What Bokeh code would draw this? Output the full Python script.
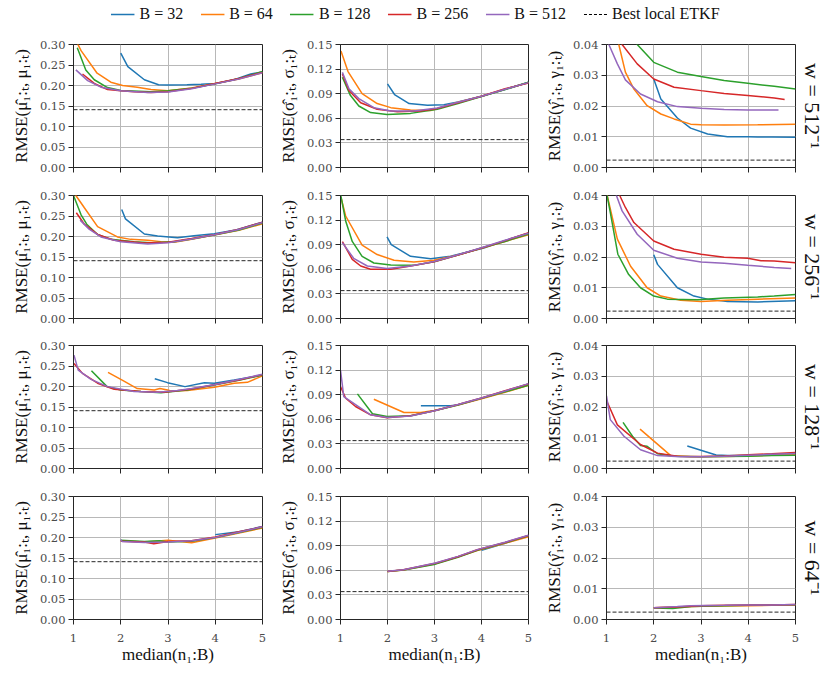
from bokeh.plotting import figure
from bokeh.layouts import column, row
from bokeh.models import (FixedTicker, PrintfTickFormatter, Span, LinearAxis,
                          Range1d, Legend, LegendItem)
from bokeh.embed import file_html
from bokeh.resources import INLINE

# ---------------- data ----------------
B_VALUES = [32, 64, 128, 256, 512]
B_LABELS = ["B = 32", "B = 64", "B = 128", "B = 256", "B = 512"]
COLORS = ["#1f77b4", "#ff7f0e", "#2ca02c", "#d62728", "#9467bd"]
X_TICKS = [1, 2, 3, 4, 5]
Y_TICKS_MU = [0.0, 0.05, 0.10, 0.15, 0.20, 0.25, 0.30]
Y_TICKS_SIG = [0.0, 0.03, 0.06, 0.09, 0.12, 0.15]
Y_TICKS_GAM = [0.0, 0.01, 0.02, 0.03, 0.04]
ETKF_BEST = [0.141, 0.034, 0.0024]   # mu, sigma, gamma
W_LABELS = ["w = 512⁻¹", "w = 256⁻¹", "w = 128⁻¹", "w = 64⁻¹"]
Y_LABELS = ["RMSE(μ̂₁:ₜ, μ₁:ₜ)", "RMSE(σ̂₁:ₜ, σ₁:ₜ)", "RMSE(γ̂₁:ₜ, γ₁:ₜ)"]
X_LABEL = "median(n₁:B)"
ETKF_LABEL = "Best local ETKF"

# ---- w = 512^-1 ----
MU_W512 = {
    32: ([2.0, 2.15, 2.5, 2.8, 3.0, 3.4, 3.7, 4.0, 4.4, 4.75, 5.0],
         [0.279, 0.246, 0.214, 0.202, 0.201, 0.202, 0.203, 0.205, 0.214, 0.228, 0.233]),
    64: ([1.05, 1.16, 1.5, 1.79, 2.04, 2.35, 2.64, 3.0, 3.5, 4.0, 4.5, 5.0],
         [0.31, 0.285, 0.230, 0.208, 0.200, 0.196, 0.190, 0.187, 0.194, 0.205, 0.216, 0.231]),
    128: ([1.08, 1.26, 1.44, 1.72, 2.0, 2.64, 3.0, 3.5, 4.0, 4.5, 5.0],
          [0.292, 0.238, 0.214, 0.195, 0.188, 0.185, 0.187, 0.193, 0.204, 0.217, 0.234]),
    256: ([1.19, 1.44, 1.72, 2.0, 2.28, 2.64, 3.0, 3.5, 4.0, 4.5, 5.0],
          [0.228, 0.205, 0.190, 0.187, 0.185, 0.183, 0.185, 0.193, 0.205, 0.217, 0.232]),
    512: ([1.05, 1.3, 1.58, 2.0, 2.57, 3.0, 3.5, 4.0, 4.5, 5.0],
          [0.238, 0.212, 0.196, 0.187, 0.183, 0.184, 0.192, 0.204, 0.216, 0.231]),
}
SIG_W512 = {
    32: ([2.0, 2.15, 2.46, 2.85, 3.2, 3.5, 4.0, 4.5, 5.0],
         [0.102, 0.089, 0.078, 0.076, 0.0766, 0.080, 0.087, 0.095, 0.104]),
    64: ([1.01, 1.16, 1.46, 1.78, 2.07, 2.49, 2.92, 3.5, 4.0, 4.5, 5.0],
         [0.142, 0.117, 0.090, 0.078, 0.073, 0.070, 0.0695, 0.0795, 0.087, 0.0955, 0.1035]),
    128: ([1.04, 1.21, 1.39, 1.64, 1.99, 2.49, 3.06, 3.5, 4.0, 4.5, 5.0],
          [0.110, 0.088, 0.075, 0.067, 0.0645, 0.066, 0.071, 0.078, 0.0865, 0.095, 0.104]),
    256: ([1.04, 1.18, 1.43, 1.78, 2.21, 2.7, 3.06, 3.5, 4.0, 4.5, 5.0],
          [0.114, 0.094, 0.079, 0.071, 0.068, 0.069, 0.072, 0.079, 0.087, 0.096, 0.103]),
    512: ([1.04, 1.18, 1.39, 1.71, 2.07, 2.56, 3.06, 3.5, 4.0, 4.5, 5.0],
          [0.116, 0.096, 0.084, 0.073, 0.069, 0.069, 0.0726, 0.0795, 0.087, 0.0955, 0.1035]),
}
GAM_W512 = {
    32: ([2.0, 2.15, 2.5, 2.78, 3.14, 3.56, 4.0, 4.2, 4.5, 5.0],
         [0.0288, 0.0223, 0.0161, 0.0128, 0.0109, 0.0100, 0.0100, 0.0099, 0.0099, 0.0098]),
    64: ([1.2, 1.26, 1.4, 1.58, 1.86, 2.15, 2.43, 2.78, 3.0, 3.49, 4.2, 5.0],
         [0.046, 0.040, 0.031, 0.0255, 0.0201, 0.0174, 0.0158, 0.0141, 0.0139, 0.0138, 0.0139, 0.0141]),
    128: ([1.4, 1.65, 2.0, 2.5, 3.0, 3.49, 3.99, 4.55, 5.0],
          [0.046, 0.040, 0.0342, 0.031, 0.0296, 0.0283, 0.0274, 0.0264, 0.0255]),
    256: ([1.1, 1.33, 1.65, 2.0, 2.43, 3.0, 3.49, 3.99, 4.55, 4.77],
          [0.048, 0.040, 0.0337, 0.0288, 0.0261, 0.025, 0.0241, 0.0234, 0.0226, 0.0221]),
    512: ([1.0, 1.05, 1.23, 1.4, 1.72, 2.08, 2.5, 3.0, 3.49, 3.99, 4.64],
          [0.042, 0.040, 0.0337, 0.0285, 0.0239, 0.0214, 0.0198, 0.0193, 0.0189, 0.0187, 0.0187]),
}

# ---- w = 256^-1 ----
MU_W256 = {
    32: ([2.02, 2.1, 2.5, 2.78, 3.2, 3.55, 3.98, 4.4, 5.0],
         [0.266, 0.243, 0.206, 0.201, 0.197, 0.202, 0.207, 0.215, 0.235]),
    64: ([1.0, 1.05, 1.23, 1.51, 1.93, 2.21, 2.57, 2.85, 3.13, 3.5, 4.0, 4.5, 5.0],
         [0.31, 0.30, 0.27, 0.224, 0.199, 0.193, 0.191, 0.1875, 0.186, 0.193, 0.204, 0.215, 0.231]),
    128: ([1.0, 1.16, 1.28, 1.51, 1.79, 2.28, 2.64, 3.13, 3.5, 4.0, 4.5, 5.0],
          [0.30, 0.253, 0.230, 0.205, 0.193, 0.187, 0.185, 0.187, 0.194, 0.204, 0.216, 0.233]),
    256: ([1.06, 1.23, 1.51, 1.86, 2.5, 3.0, 3.5, 4.0, 4.5, 5.0],
          [0.258, 0.230, 0.205, 0.191, 0.184, 0.186, 0.195, 0.205, 0.218, 0.235]),
    512: ([1.14, 1.33, 1.58, 2.0, 2.57, 3.0, 3.5, 4.0, 4.5, 5.0],
          [0.240, 0.218, 0.199, 0.187, 0.182, 0.185, 0.194, 0.205, 0.217, 0.234]),
}
SIG_W256 = {
    32: ([1.99, 2.08, 2.49, 2.92, 3.34, 4.05, 4.5, 5.0],
         [0.0995, 0.090, 0.0758, 0.073, 0.0758, 0.086, 0.095, 0.104]),
    64: ([1.01, 1.11, 1.46, 1.78, 2.14, 2.56, 2.99, 3.5, 4.0, 4.5, 5.0],
         [0.1476, 0.125, 0.0896, 0.078, 0.071, 0.069, 0.071, 0.0775, 0.0855, 0.094, 0.102]),
    128: ([1.0, 1.11, 1.25, 1.46, 1.71, 2.07, 2.56, 2.99, 3.5, 4.0, 4.5, 5.0],
          [0.152, 0.119, 0.094, 0.0758, 0.0677, 0.0652, 0.0648, 0.0693, 0.0775, 0.086, 0.094, 0.103]),
    256: ([1.04, 1.25, 1.43, 1.64, 2.07, 2.49, 2.99, 3.5, 4.0, 4.5, 5.0],
          [0.0937, 0.0722, 0.064, 0.060, 0.060, 0.064, 0.0693, 0.0775, 0.086, 0.095, 0.1045]),
    512: ([1.04, 1.28, 1.57, 1.99, 2.49, 2.99, 3.5, 4.0, 4.5, 5.0],
          [0.0925, 0.0734, 0.064, 0.0611, 0.064, 0.0695, 0.0778, 0.0862, 0.0955, 0.104]),
}
GAM_W256 = {
    32: ([2.0, 2.08, 2.5, 2.85, 3.14, 3.56, 4.2, 5.0],
         [0.0207, 0.0176, 0.0100, 0.0073, 0.0063, 0.0055, 0.0054, 0.0058]),
    64: ([1.0, 1.23, 1.51, 1.86, 2.15, 2.57, 3.0, 3.56, 4.2, 5.0],
         [0.041, 0.0258, 0.017, 0.010, 0.0073, 0.0059, 0.0055, 0.0059, 0.0063, 0.0067]),
    128: ([1.0, 1.08, 1.24, 1.47, 1.72, 2.0, 2.29, 2.93, 3.49, 4.2, 4.55, 5.0],
          [0.041, 0.0345, 0.0209, 0.0143, 0.010, 0.0073, 0.0063, 0.0061, 0.0067, 0.0070, 0.0073, 0.0078]),
    256: ([1.2, 1.28, 1.4, 1.58, 2.0, 2.43, 3.0, 3.49, 3.99, 4.27, 4.55, 5.0],
          [0.045, 0.040, 0.0361, 0.0312, 0.0252, 0.0225, 0.0209, 0.0199, 0.0196, 0.0188, 0.0187, 0.0181]),
    512: ([1.15, 1.21, 1.33, 1.65, 2.0, 2.5, 3.0, 3.49, 3.99, 4.55, 4.91],
          [0.045, 0.040, 0.035, 0.0274, 0.0222, 0.0196, 0.0184, 0.018, 0.0173, 0.0166, 0.0163]),
}

# ---- w = 128^-1 ----
MU_W128 = {
    32: ([2.72, 2.99, 3.36, 3.77, 3.98, 4.4, 5.0],
         [0.219, 0.2094, 0.1997, 0.209, 0.2078, 0.216, 0.228]),
    64: ([1.73, 2.04, 2.35, 2.71, 2.83, 2.99, 3.06, 3.41, 3.98, 4.4, 4.68, 5.0],
         [0.2345, 0.215, 0.195, 0.1916, 0.195, 0.1916, 0.189, 0.190, 0.198, 0.208, 0.2102, 0.226]),
    128: ([1.38, 1.71, 2.0, 2.43, 2.85, 3.41, 4.0, 4.5, 5.0],
          [0.2385, 0.1997, 0.1916, 0.1876, 0.185, 0.1916, 0.204, 0.215, 0.228]),
    256: ([1.01, 1.19, 1.51, 1.86, 2.43, 2.92, 3.5, 4.0, 4.5, 5.0],
          [0.256, 0.232, 0.208, 0.193, 0.1876, 0.186, 0.194, 0.205, 0.216, 0.229]),
    512: ([1.01, 1.1, 1.37, 1.72, 2.28, 2.78, 3.2, 3.5, 4.0, 4.5, 5.0],
          [0.2766, 0.240, 0.2175, 0.1997, 0.188, 0.186, 0.190, 0.195, 0.205, 0.217, 0.230]),
}
SIG_W128 = {
    32: ([2.71, 3.34, 3.49, 4.0, 4.5, 5.0],
         [0.0764, 0.0764, 0.0776, 0.0856, 0.094, 0.103]),
    64: ([1.71, 2.35, 2.71, 2.99, 3.5, 4.0, 4.5, 5.0],
         [0.0845, 0.0683, 0.0683, 0.0708, 0.0775, 0.085, 0.093, 0.1015]),
    128: ([1.36, 1.68, 1.99, 2.49, 3.0, 3.5, 4.0, 4.5, 5.0],
          [0.091, 0.0667, 0.0635, 0.0643, 0.0705, 0.0775, 0.0855, 0.0935, 0.1015]),
    256: ([1.0, 1.11, 1.32, 1.64, 1.99, 2.49, 3.0, 3.5, 4.0, 4.5, 5.0],
          [0.0999, 0.0857, 0.0756, 0.0655, 0.0619, 0.0643, 0.0705, 0.078, 0.086, 0.095, 0.103]),
    512: ([1.0, 1.07, 1.36, 1.64, 1.99, 2.49, 3.0, 3.5, 4.0, 4.5, 5.0],
          [0.120, 0.0877, 0.0764, 0.0655, 0.0623, 0.0639, 0.0705, 0.078, 0.086, 0.0945, 0.1035]),
}
GAM_W128 = {
    32: ([2.71, 3.32, 3.56, 4.0, 4.5, 5.0],
         [0.0073, 0.0044, 0.0042, 0.0043, 0.0046, 0.0049]),
    64: ([1.71, 2.36, 2.78, 3.5, 4.0, 4.5, 5.0],
         [0.0128, 0.0042, 0.0038, 0.0039, 0.0041, 0.0043, 0.0045]),
    128: ([1.35, 1.55, 1.72, 1.86, 2.08, 2.43, 3.0, 3.5, 4.0, 4.5, 5.0],
          [0.015, 0.0105, 0.0075, 0.0072, 0.0048, 0.004, 0.0038, 0.0039, 0.004, 0.0042, 0.0043]),
    256: ([1.01, 1.23, 1.72, 2.08, 2.5, 3.0, 3.5, 4.0, 4.5, 5.0],
          [0.0218, 0.0142, 0.0078, 0.005, 0.004, 0.0039, 0.0041, 0.0045, 0.0048, 0.0052]),
    512: ([1.0, 1.08, 1.37, 1.72, 2.08, 2.57, 3.0, 3.5, 4.0, 4.5, 5.0],
          [0.0236, 0.0159, 0.0105, 0.0061, 0.0042, 0.0038, 0.0038, 0.0040, 0.0043, 0.0046, 0.0049]),
}

# ---- w = 64^-1 ----
MU_W64 = {
    32: ([4.0, 4.5, 5.0], [0.207, 0.214, 0.227]),
    64: ([2.0, 2.5, 3.0, 3.5, 4.0, 4.5, 5.0],
         [0.192, 0.189, 0.1935, 0.187, 0.199, 0.211, 0.223]),
    128: ([2.0, 2.5, 2.82, 3.0, 3.5, 4.0, 4.5, 5.0],
          [0.193, 0.190, 0.192, 0.189, 0.191, 0.200, 0.212, 0.225]),
    256: ([2.0, 2.5, 2.7, 3.0, 3.5, 4.0, 4.5, 5.0],
          [0.191, 0.189, 0.185, 0.190, 0.192, 0.201, 0.214, 0.226]),
    512: ([2.0, 2.03, 2.5, 3.0, 3.5, 4.0, 4.5, 5.0],
          [0.195, 0.190, 0.188, 0.189, 0.192, 0.200, 0.213, 0.226]),
}
SIG_W64 = {
    32: ([4.0, 4.5, 5.0], [0.0845, 0.093, 0.1025]),
    64: ([2.0, 2.34, 3.02, 3.5, 3.91, 4.5, 5.0],
         [0.0585, 0.0605, 0.068, 0.0765, 0.084, 0.093, 0.101]),
    128: ([2.0, 2.34, 3.02, 3.5, 3.91, 4.5, 5.0],
          [0.0585, 0.0605, 0.0675, 0.076, 0.0845, 0.0935, 0.102]),
    256: ([2.0, 2.34, 3.02, 3.5, 3.91, 4.5, 5.0],
          [0.0585, 0.0607, 0.0685, 0.0765, 0.085, 0.094, 0.1025]),
    512: ([2.0, 2.34, 3.02, 3.5, 3.91, 4.5, 5.0],
          [0.0587, 0.0607, 0.0688, 0.077, 0.0852, 0.0943, 0.1028]),
}
GAM_W64 = {
    32: ([4.0, 4.5, 5.0], [0.0047, 0.0047, 0.0048]),
    64: ([2.0, 2.5, 3.0, 3.5, 4.0, 4.5, 5.0],
         [0.0038, 0.0041, 0.0043, 0.0044, 0.0045, 0.0046, 0.0047]),
    128: ([2.0, 2.4, 2.8, 3.5, 4.0, 4.5, 5.0],
          [0.0037, 0.0036, 0.0042, 0.0045, 0.0046, 0.0047, 0.0048]),
    256: ([2.0, 2.5, 3.0, 3.5, 4.0, 4.5, 5.0],
          [0.0038, 0.0041, 0.0045, 0.0046, 0.0047, 0.0047, 0.0049]),
    512: ([2.0, 2.5, 2.77, 3.5, 3.9, 4.5, 5.0],
          [0.0038, 0.0042, 0.0045, 0.0046, 0.0047, 0.0047, 0.0049]),
}

PANELS = [
    [MU_W512, SIG_W512, GAM_W512],
    [MU_W256, SIG_W256, GAM_W256],
    [MU_W128, SIG_W128, GAM_W128],
    [MU_W64, SIG_W64, GAM_W64],
]
Y_TICKS = [Y_TICKS_MU, Y_TICKS_SIG, Y_TICKS_GAM]

# ---------------- styling / layout ----------------
FONT = "Liberation Serif"
TICK_FONT = "DejaVu Serif"
DARK = "#262626"
GRID = "#b8b8b8"
LEGEND_H = 36
ROW_HEIGHTS = [151, 150, 151, 192]
FRAME_H = 123
TOP_B = 8
LEFT_B = [73, 67, 67]
FRAME_W = [189, 188, 189]
RIGHT_B = [11, 11, 35]


def make_panel(r, c):
    last = (r == len(PANELS) - 1)
    height = ROW_HEIGHTS[r]
    width = LEFT_B[c] + FRAME_W[c] + RIGHT_B[c]
    yt = Y_TICKS[c]
    p = figure(width=width, height=height,
               x_range=Range1d(1, 5), y_range=Range1d(yt[0], yt[-1]),
               toolbar_location=None, output_backend="svg",
               min_border_left=LEFT_B[c], min_border_right=RIGHT_B[c],
               min_border_top=TOP_B, min_border_bottom=height - TOP_B - FRAME_H)
    p.background_fill_color = "white"
    p.border_fill_color = "white"
    p.outline_line_color = DARK
    p.outline_line_width = 1

    p.xaxis.ticker = FixedTicker(ticks=X_TICKS)
    p.yaxis.ticker = FixedTicker(ticks=yt)
    p.yaxis.formatter = PrintfTickFormatter(format="%.2f")
    for ax in (p.xaxis, p.yaxis):
        ax.axis_line_color = DARK
        ax.major_tick_line_color = DARK
        ax.major_tick_out = 5
        ax.major_tick_in = 0
        ax.minor_tick_line_color = None
        ax.major_label_text_font = TICK_FONT
        ax.major_label_text_font_size = "11.5px"
        ax.major_label_text_color = "#4a4a4a"
        ax.major_label_standoff = 3
        ax.axis_label_text_font = FONT
        ax.axis_label_text_font_style = "normal"
        ax.axis_label_text_font_size = "17px"
        ax.axis_label_text_color = "#111111"
    p.yaxis.axis_label = Y_LABELS[c]
    p.yaxis.axis_label_standoff = 6
    if last:
        p.xaxis.axis_label = X_LABEL
        p.xaxis.major_label_standoff = 9
        p.xaxis.axis_label_standoff = 0
    else:
        p.xaxis.major_label_text_color = None

    p.xgrid.grid_line_color = GRID
    p.ygrid.grid_line_color = GRID
    p.xgrid.grid_line_width = 1
    p.ygrid.grid_line_width = 1

    p.add_layout(Span(location=ETKF_BEST[c], dimension="width",
                      line_color=DARK, line_dash="4 2", line_width=1))

    data = PANELS[r][c]
    for b, col in zip(B_VALUES, COLORS):
        xs, ys = data[b]
        p.line(xs, ys, line_color=col, line_width=1.5)

    if c == 2:
        rax = LinearAxis(axis_label=W_LABELS[r], ticker=FixedTicker(ticks=[]),
                         axis_line_color=None, major_tick_line_color=None,
                         minor_tick_line_color=None,
                         major_label_text_color=None,
                         axis_label_standoff=4,
                         axis_label_text_font=FONT,
                         axis_label_text_font_style="normal",
                         axis_label_text_font_size="22px",
                         axis_label_text_color="#111111")
        p.add_layout(rax, "right")
    return p


# legend strip (its renderers hold a single NaN point, so they draw nothing)
total_w = sum(LEFT_B) + sum(FRAME_W) + sum(RIGHT_B)
leg = figure(width=total_w, height=LEGEND_H, x_range=Range1d(0, 1), y_range=Range1d(0, 1),
             toolbar_location=None, output_backend="svg", min_border=0,
             x_axis_type=None, y_axis_type=None)
leg.outline_line_color = None
leg.grid.visible = False
NAN = float("nan")
items = []
for lab, col in zip(B_LABELS, COLORS):
    rr = leg.line(x=[NAN], y=[NAN], line_color=col, line_width=1.5)
    items.append(LegendItem(label=lab, renderers=[rr]))
rd = leg.line(x=[NAN], y=[NAN], line_color="black", line_width=1, line_dash="3 2")
items.append(LegendItem(label=ETKF_LABEL, renderers=[rd]))
legend = Legend(items=items, orientation="horizontal", location="top",
                border_line_color=None, background_fill_alpha=0,
                label_text_font=FONT, label_text_font_size="16px",
                label_text_color="#111111", label_height=14,
                glyph_width=24, glyph_height=14, label_standoff=5,
                spacing=17, padding=0, margin=5)
leg.add_layout(legend, "center")

rows = [leg]
for r in range(len(PANELS)):
    rows.append(row(*[make_panel(r, c) for c in range(3)], spacing=0))
layout = column(*rows, spacing=0)

open("out.html", "w").write(file_html(layout, INLINE))
